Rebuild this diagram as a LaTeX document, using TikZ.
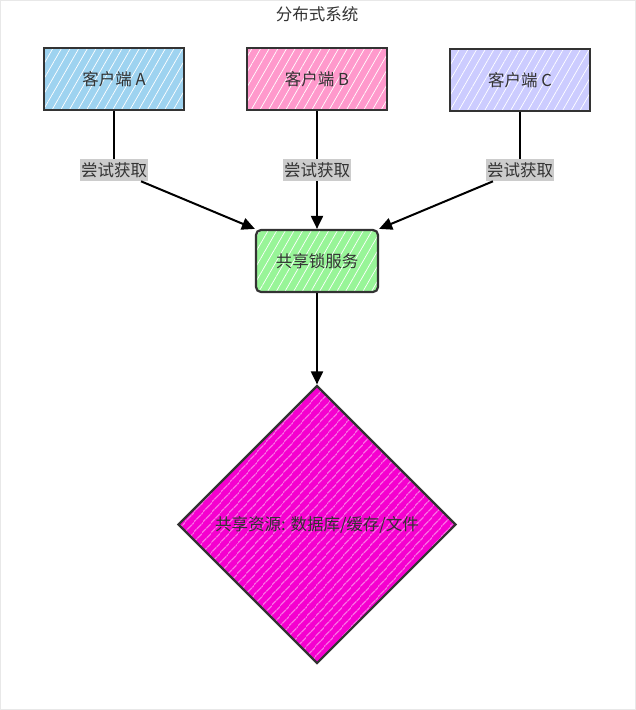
\documentclass[tikz,border=0pt]{standalone}
\usepackage{fontspec}
\setmainfont{Noto Sans CJK SC}
\usetikzlibrary{arrows.meta,shapes.geometric,patterns.meta}
\definecolor{ink}{HTML}{333333}
\definecolor{cA}{HTML}{9ED3F0}
\definecolor{cB}{HTML}{FF99CC}
\definecolor{cC}{HTML}{CCCCFF}
\definecolor{cS}{HTML}{98F598}
\definecolor{cD}{HTML}{F500CF}
\definecolor{labelgray}{HTML}{CCCCCC}
\tikzset{
  txt/.style={font=\fontsize{16.5}{19}\selectfont, text=ink},
  boxstyle/.style={txt, draw=ink, line width=2.2pt, minimum width=140pt, minimum height=62pt, inner sep=0pt},
  hatch/.style={preaction={fill=#1}, preaction={pattern={Lines[angle=60,distance=7.5pt,line width=0.7pt]}, pattern color=white}},
  dhatch/.style={preaction={fill=#1}, preaction={pattern={Lines[angle=48,distance=6.5pt,line width=0.7pt]}, pattern color=white}},
  trylabel/.style={txt, fill=labelgray, inner xsep=1pt, inner ysep=3.5pt},
  conn/.style={draw=black, line width=2pt},
  arr/.style={conn, -{Triangle[length=13pt,width=12pt]}},
}
\begin{document}
\begin{tikzpicture}[x=1pt,y=-1pt]
\useasboundingbox (0,0) rectangle (636,710);
\draw[gray!18, line width=1pt] (0.5,0.5) rectangle (635.5,709.5);
\node[txt] (T) at (317,14) {分布式系统};
\node[boxstyle, hatch=cA] (A) at (114,79) {客户端 A};
\node[boxstyle, hatch=cB] (B) at (317,79) {客户端 B};
\node[boxstyle, hatch=cC] (C) at (520,80) {客户端 C};
\node[boxstyle, hatch=cS, rounded corners=5pt, minimum width=122pt, minimum height=62pt] (S) at (317,261) {共享锁服务};
\node[diamond, aspect=1, draw=ink, line width=2.2pt, minimum size=278pt, inner sep=0pt, dhatch=cD, txt] (D) at (317,524.5) {共享资源: 数据库/缓存/文件};
\node[trylabel] (lA) at (114,170) {尝试获取};
\node[trylabel] (lB) at (317,170) {尝试获取};
\node[trylabel] (lC) at (520,170) {尝试获取};
\draw[conn] (A.south) -- (lA);
\draw[arr] (lA) -- (S.north west);
\draw[conn] (B.south) -- (lB);
\draw[arr] (lB) -- (S.north);
\draw[conn] (C.south) -- (lC);
\draw[arr] (lC) -- (S.north east);
\draw[arr] (S.south) -- (D.north);
\end{tikzpicture}
\end{document}
